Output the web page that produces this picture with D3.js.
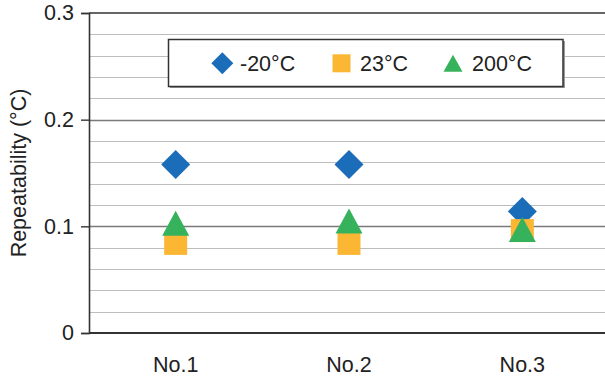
<!DOCTYPE html>
<html>
<head>
<meta charset="utf-8">
<script src="https://cdn.jsdelivr.net/npm/d3@7"></script>
<style>
  html, body { margin: 0; padding: 0; background: #fff; }
  svg { display: block; font-family: "Liberation Sans", Arial, Helvetica, sans-serif; }
</style>
</head>
<body>
<svg id="chart" width="605" height="380"></svg>
<script>
// Measurement categories and series
const categories = ["No.1", "No.2", "No.3"];
const seriesNames = ["-20°C", "23°C", "200°C"];
const valuesMinus20 = [0.158, 0.158, 0.114];
const values23 = [0.084, 0.084, 0.096];
const values200 = [0.103, 0.105, 0.097];
const yTicks = [0, 0.1, 0.2, 0.3];
const yTickLabels = ["0", "0.1", "0.2", "0.3"];
const yTitle = "Repeatability (°C)";

const colors = ["#1b6db9", "#fbb634", "#36b25c"];
const FS = 21.5;

const svg = d3.select("#chart");
const margin = { left: 89, top: 13, right: 0, bottom: 47 };
const W = 605, H = 380;
const plotBottom = H - margin.bottom;

const x = d3.scaleBand().domain(categories).range([margin.left, 609]);
const y = d3.scaleLinear().domain([0, 0.3]).range([plotBottom, margin.top]);

// Gridlines: minor every 0.02, major every 0.1
const minor = d3.range(0, 0.3001, 0.02).map(v => +v.toFixed(2));
const grid = svg.append("g");
grid.selectAll("line.minor")
  .data(minor.filter(v => Math.round(v * 100) % 10 !== 0))
  .join("line")
  .attr("x1", margin.left).attr("x2", W)
  .attr("y1", d => Math.round(y(d)) + 0.5).attr("y2", d => Math.round(y(d)) + 0.5)
  .attr("stroke", "#bdbdbd").attr("stroke-width", 1.2);
grid.selectAll("line.major")
  .data([0.1, 0.2])
  .join("line")
  .attr("x1", margin.left).attr("x2", W)
  .attr("y1", d => Math.round(y(d)) + 0.5).attr("y2", d => Math.round(y(d)) + 0.5)
  .attr("stroke", "#7a7a7a").attr("stroke-width", 1.3);
// top line at 0.3
grid.append("line")
  .attr("x1", margin.left).attr("x2", W)
  .attr("y1", y(0.3)).attr("y2", y(0.3))
  .attr("stroke", "#333").attr("stroke-width", 1.6);

// Y axis
const yAxis = d3.axisLeft(y)
  .tickValues(yTicks)
  .tickFormat((d, i) => yTickLabels[i])
  .tickSize(8)
  .tickPadding(7);
const gy = svg.append("g").attr("transform", `translate(${margin.left},0)`).call(yAxis);
gy.select(".domain").attr("stroke", "#333").attr("stroke-width", 1.6);
gy.selectAll(".tick line").attr("stroke", "#333").attr("stroke-width", 1.4);
gy.selectAll(".tick text").attr("font-size", FS).attr("fill", "#222")
  .attr("font-family", "Liberation Sans, Arial, sans-serif");

// X axis (labels only, baseline line)
svg.append("line")
  .attr("x1", margin.left).attr("x2", W)
  .attr("y1", plotBottom).attr("y2", plotBottom)
  .attr("stroke", "#333").attr("stroke-width", 2);
svg.append("g").selectAll("text")
  .data(categories)
  .join("text")
  .attr("x", d => x(d) + x.bandwidth() / 2)
  .attr("y", 372)
  .attr("text-anchor", "middle")
  .attr("font-size", FS)
  .attr("fill", "#222")
  .text(d => d);

// Y title
svg.append("text")
  .attr("transform", `translate(26,${(margin.top + plotBottom) / 2}) rotate(-90)`)
  .attr("text-anchor", "middle")
  .attr("font-size", FS)
  .attr("fill", "#222")
  .text(yTitle);

// Marker shapes (centered on their bounding box)
const diamond = s => ({ draw(ctx) { const h = s / 2; ctx.moveTo(0, -h); ctx.lineTo(h, 0); ctx.lineTo(0, h); ctx.lineTo(-h, 0); ctx.closePath(); } });
const square = s => ({ draw(ctx) { const h = s / 2; ctx.rect(-h, -h, s, s); } });
const triangle = (w, hgt) => ({ draw(ctx) { ctx.moveTo(0, -hgt / 2); ctx.lineTo(w / 2, hgt / 2); ctx.lineTo(-w / 2, hgt / 2); ctx.closePath(); } });

const plotShapes = [diamond(29), square(23), triangle(27, 25)];
const legendShapes = [diamond(22), square(18), triangle(19, 17)];
const seriesValues = [valuesMinus20, values23, values200];

seriesValues.forEach((vals, si) => {
  svg.append("g").selectAll("path")
    .data(vals)
    .join("path")
    .attr("transform", (d, i) => `translate(${x(categories[i]) + x.bandwidth() / 2},${y(d)})`)
    .attr("d", d3.symbol().type(plotShapes[si])())
    .attr("fill", colors[si]);
});

// Legend
const lg = svg.append("g");
lg.append("rect").attr("x", 170).attr("y", 41).attr("width", 395).attr("height", 47)
  .attr("fill", "#9a9a9a");
lg.append("rect").attr("x", 168.5).attr("y", 39.5).attr("width", 394.5).attr("height", 47)
  .attr("fill", "#fff").attr("stroke", "#333").attr("stroke-width", 1.5);
const legendItems = [
  { mx: 222.3, tx: 240 },
  { mx: 341.5, tx: 360 },
  { mx: 453, tx: 472 }
];
legendItems.forEach((it, i) => {
  lg.append("path")
    .attr("transform", `translate(${it.mx},63.3)`)
    .attr("d", d3.symbol().type(legendShapes[i])())
    .attr("fill", colors[i]);
  lg.append("text")
    .attr("x", it.tx).attr("y", 71)
    .attr("font-size", FS)
    .attr("fill", "#222")
    .text(seriesNames[i]);
});
</script>
</body>
</html>
